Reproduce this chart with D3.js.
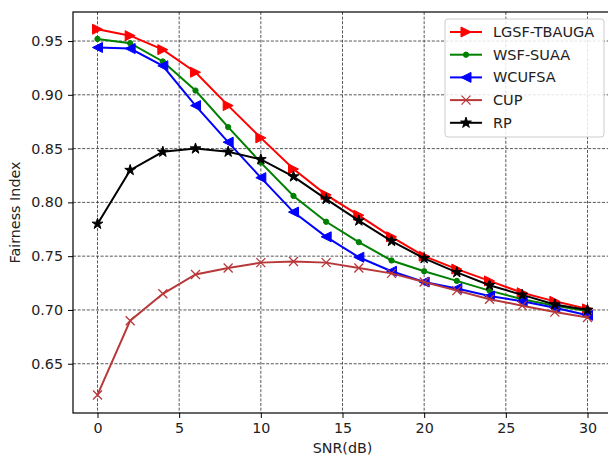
<!DOCTYPE html>
<html>
<head>
<meta charset="utf-8">
<script src="https://cdn.jsdelivr.net/npm/d3@7"></script>
<style>
  body { margin: 0; background: #fff; }
  svg text { font-family: "DejaVu Sans", sans-serif; fill: #222; }
</style>
</head>
<body>
<svg id="chart" width="608" height="460"></svg>
<script>
// data
var snr = [0, 2, 4, 6, 8, 10, 12, 14, 16, 18, 20, 22, 24, 26, 28, 30];
var lgsf = [0.961, 0.955, 0.942, 0.921, 0.890, 0.860, 0.831, 0.807, 0.788, 0.768, 0.750, 0.738, 0.727, 0.716, 0.708, 0.701];
var wsf = [0.952, 0.948, 0.931, 0.904, 0.870, 0.837, 0.806, 0.782, 0.763, 0.746, 0.736, 0.727, 0.718, 0.710, 0.704, 0.699];
var wcufsa = [0.944, 0.943, 0.927, 0.890, 0.856, 0.823, 0.791, 0.768, 0.749, 0.736, 0.726, 0.720, 0.713, 0.708, 0.702, 0.695];
var cup = [0.621, 0.690, 0.715, 0.733, 0.739, 0.744, 0.745, 0.744, 0.739, 0.734, 0.726, 0.718, 0.710, 0.704, 0.698, 0.693];
var rp = [0.780, 0.830, 0.847, 0.850, 0.847, 0.840, 0.824, 0.803, 0.783, 0.764, 0.748, 0.735, 0.723, 0.714, 0.705, 0.700];

var xTicks = [0, 5, 10, 15, 20, 25, 30];
var yTicks = [0.65, 0.70, 0.75, 0.80, 0.85, 0.90, 0.95];

var series = [
    {name: "LGSF-TBAUGA", values: lgsf, color: "#ff0000", marker: "right"},
    {name: "WSF-SUAA", values: wsf, color: "#008000", marker: "dot"},
    {name: "WCUFSA", values: wcufsa, color: "#0000ff", marker: "left"},
    {name: "CUP", values: cup, color: "#b8383a", marker: "x"},
    {name: "RP", values: rp, color: "#000000", marker: "star"}
];

var svg = d3.select("#chart");
var plotLeft = 73, plotRight = 612, plotTop = 12, plotBottom = 413;

var x = d3.scaleLinear().domain([-1.5, 31.5]).range([plotLeft, plotRight]);
var y = d3.scaleLinear().domain([0.6042, 0.977]).range([plotBottom, plotTop]);

// grid
var grid = svg.append("g").attr("class", "grid");
xTicks.forEach(function(t) {
    grid.append("line")
        .attr("x1", x(t)).attr("x2", x(t))
        .attr("y1", plotTop).attr("y2", plotBottom)
        .attr("stroke", "#444").attr("stroke-width", 0.9)
        .attr("stroke-dasharray", "3,1.6");
});
yTicks.forEach(function(t) {
    grid.append("line")
        .attr("x1", plotLeft).attr("x2", plotRight)
        .attr("y1", y(t)).attr("y2", y(t))
        .attr("stroke", "#444").attr("stroke-width", 0.9)
        .attr("stroke-dasharray", "3,1.6");
});

// marker shapes
function markerPath(kind) {
    var h = 5;
    if (kind == "right") return "M" + h + ",0L" + (-h) + "," + (-h) + "L" + (-h) + "," + h + "Z";
    if (kind == "left") return "M" + (-h) + ",0L" + h + "," + (-h) + "L" + h + "," + h + "Z";
    if (kind == "x") return "M-4.5,-4.5L4.5,4.5M-4.5,4.5L4.5,-4.5";
    if (kind == "star") return d3.symbol().type(d3.symbolStar).size(36)();
    return d3.symbol().type(d3.symbolCircle).size(22)();
}

function drawMarker(g, kind, color, cx, cy) {
    var p = g.append("path")
        .attr("d", markerPath(kind))
        .attr("transform", "translate(" + cx + "," + cy + ")");
    if (kind == "x") {
        p.attr("fill", "none").attr("stroke", color).attr("stroke-width", 1.3);
    } else {
        p.attr("fill", color).attr("stroke", color).attr("stroke-width", 1);
    }
}

var line = d3.line()
    .x(function(d) { return x(d[0]); })
    .y(function(d) { return y(d[1]); });

var plot = svg.append("g");
series.forEach(function(s) {
    var pts = snr.map(function(v, i) { return [v, s.values[i]]; });
    plot.append("path")
        .datum(pts)
        .attr("d", line)
        .attr("fill", "none")
        .attr("stroke", s.color)
        .attr("stroke-width", 2);
    pts.forEach(function(p) {
        drawMarker(plot, s.marker, s.color, x(p[0]), y(p[1]));
    });
});

// axes
var xAxis = svg.append("g")
    .attr("transform", "translate(0," + plotBottom + ")")
    .call(d3.axisBottom(x).tickValues(xTicks).tickFormat(d3.format("d")).tickSize(5).tickPadding(5).tickSizeOuter(0));
var yAxis = svg.append("g")
    .attr("transform", "translate(" + plotLeft + ",0)")
    .call(d3.axisLeft(y).tickValues(yTicks).tickFormat(d3.format(".2f")).tickSize(5).tickPadding(5).tickSizeOuter(0));

[xAxis, yAxis].forEach(function(a) {
    a.select(".domain").remove();
    a.selectAll("line").attr("stroke", "#000").attr("stroke-width", 1);
    a.selectAll("text").style("font-size", "14.3px").attr("fill", "#222");
});

// spines (right one falls just outside the picture)
svg.append("rect")
    .attr("x", plotLeft).attr("y", plotTop)
    .attr("width", plotRight - plotLeft).attr("height", plotBottom - plotTop)
    .attr("fill", "none").attr("stroke", "#000").attr("stroke-width", 1.2);

// axis labels
svg.append("text")
    .attr("x", (plotLeft + plotRight) / 2).attr("y", 453)
    .attr("text-anchor", "middle")
    .style("font-size", "14.3px")
    .text("SNR(dB)");
svg.append("text")
    .attr("transform", "translate(20," + (plotTop + plotBottom) / 2 + ") rotate(-90)")
    .attr("text-anchor", "middle")
    .style("font-size", "14.3px")
    .text("Fairness Index");

// legend
var legend = svg.append("g").attr("transform", "translate(445,19)");
legend.append("rect")
    .attr("width", 159).attr("height", 118)
    .attr("rx", 3)
    .attr("fill", "#fff").attr("fill-opacity", 0.85)
    .attr("stroke", "#ccc");
series.forEach(function(s, i) {
    var cy = 13 + i * 22.7;
    legend.append("line")
        .attr("x1", 5).attr("x2", 37)
        .attr("y1", cy).attr("y2", cy)
        .attr("stroke", s.color).attr("stroke-width", 2);
    drawMarker(legend, s.marker, s.color, 21, cy);
    legend.append("text")
        .attr("x", 48).attr("y", cy + 5)
        .style("font-size", "14.5px")
        .text(s.name);
});
</script>
</body>
</html>
